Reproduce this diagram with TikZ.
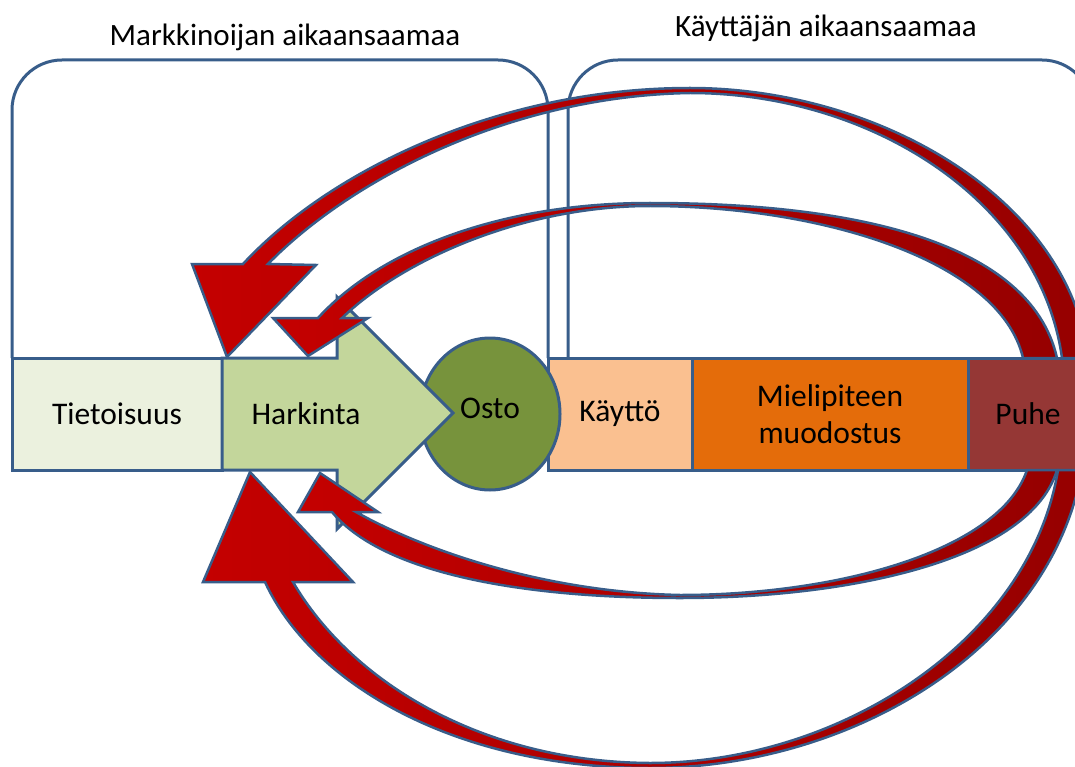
\documentclass[tikz,border=0pt]{standalone}
\usepackage{fontspec}
\setmainfont{Carlito}
\usetikzlibrary{shapes.geometric}
\definecolor{edge}{RGB}{56,93,138}
\definecolor{fTieto}{RGB}{235,241,222}
\definecolor{fHark}{RGB}{195,214,155}
\definecolor{fOsto}{RGB}{119,147,60}
\definecolor{fKayt}{RGB}{250,192,144}
\definecolor{fMiel}{RGB}{228,108,10}
\definecolor{fPuhe}{RGB}{149,55,53}
\definecolor{fRed}{RGB}{196,0,0}
\definecolor{fRedDark}{RGB}{150,0,0}
\tikzset{
  bracket/.style={draw=edge, line width=3pt, rounded corners=50pt},
  stagebox/.style={draw=edge, line width=3pt, inner sep=0pt, minimum height=112pt,
    font=\fontsize{31.5}{37}\selectfont, align=center},
  header/.style={font=\fontsize{31}{36}\selectfont},
  ribbon/.style={left color=fRed, right color=fRedDark, draw=edge, line width=2.5pt},
  bigarrow/.style={fill=fHark, draw=edge, line width=3pt},
  labeltext/.style={font=\fontsize{31.5}{37}\selectfont}
}
\begin{document}
\begin{tikzpicture}[x=1pt,y=-1pt]
\useasboundingbox (0,0) rectangle (1075,767);
\clip (0,0) rectangle (1075,767);

% headers
\node[header] (mark) at (285,37) {Markkinoijan aikaansaamaa};
\node[header] (kayt) at (826,28) {Käyttäjän aikaansaamaa};

% brackets
\draw[bracket] (12,358) -- (12,60) -- (548,60) -- (548,358);
\draw[bracket] (568,358) -- (568,60) -- (1092,60) -- (1092,358);

% boxes
\node[stagebox, fill=fTieto, minimum width=210pt] (tieto) at (117,414) {Tietoisuus};
\node[stagebox, fill=fKayt, minimum width=144pt] (kaytto) at (620,414) {Käyttö};
\node[stagebox, fill=fMiel, minimum width=276pt] (miel) at (830,414) {Mielipiteen\\muodostus};
\node[stagebox, fill=fPuhe, minimum width=120pt] (puhe) at (1028,414) {Puhe};

% Osto circle
\node[ellipse, draw=edge, line width=3pt, fill=fOsto, minimum width=140pt, minimum height=152pt,
  inner sep=0pt] (osto) at (490,414) {};

% Harkinta block arrow
\draw[bigarrow] (222,358) -- (337,358) -- (337,297) -- (453,413) -- (337,529) -- (337,470) -- (222,470) -- cycle;
\node[labeltext] (hark) at (306,414) {Harkinta};
\node[labeltext] (ostot) at (490,408) {Osto};

% red curved arrows
% A: top outer
\draw[ribbon] (1088,358) .. controls (1070,200) and (880,88) .. (690,88)
  .. controls (500,88) and (330,170) .. (243,264)
  -- (192,264) -- (227,357) -- (316,265) -- (268,264)
  .. controls (350,180) and (510,96) .. (690,93)
  .. controls (870,93) and (1040,200) .. (1062,358) -- cycle;
% B: top inner
\draw[ribbon] (1057,358) .. controls (1030,240) and (850,203) .. (650,203)
  .. controls (500,203) and (380,250) .. (318,318)
  -- (273,318) -- (308,356) -- (368,318) -- (342,318)
  .. controls (400,262) and (520,206) .. (650,206)
  .. controls (820,206) and (1000,260) .. (1023,358) -- cycle;
% C: bottom inner
\draw[ribbon] (1057,470) .. controls (1030,560) and (850,598) .. (680,598)
  .. controls (510,598) and (380,570) .. (332,512)
  -- (298,512) -- (320,473) -- (378,512) -- (356,512)
  .. controls (420,548) and (540,592) .. (680,595)
  .. controls (840,595) and (1000,550) .. (1027,470) -- cycle;
% D: bottom outer
\draw[ribbon] (1082,470) .. controls (1050,650) and (850,768) .. (650,768)
  .. controls (450,768) and (310,680) .. (265,582)
  -- (203,582) -- (250,472) -- (353,582) -- (293,582)
  .. controls (350,680) and (480,762) .. (650,763)
  .. controls (840,763) and (1030,640) .. (1058,470) -- cycle;
\end{tikzpicture}
\end{document}
